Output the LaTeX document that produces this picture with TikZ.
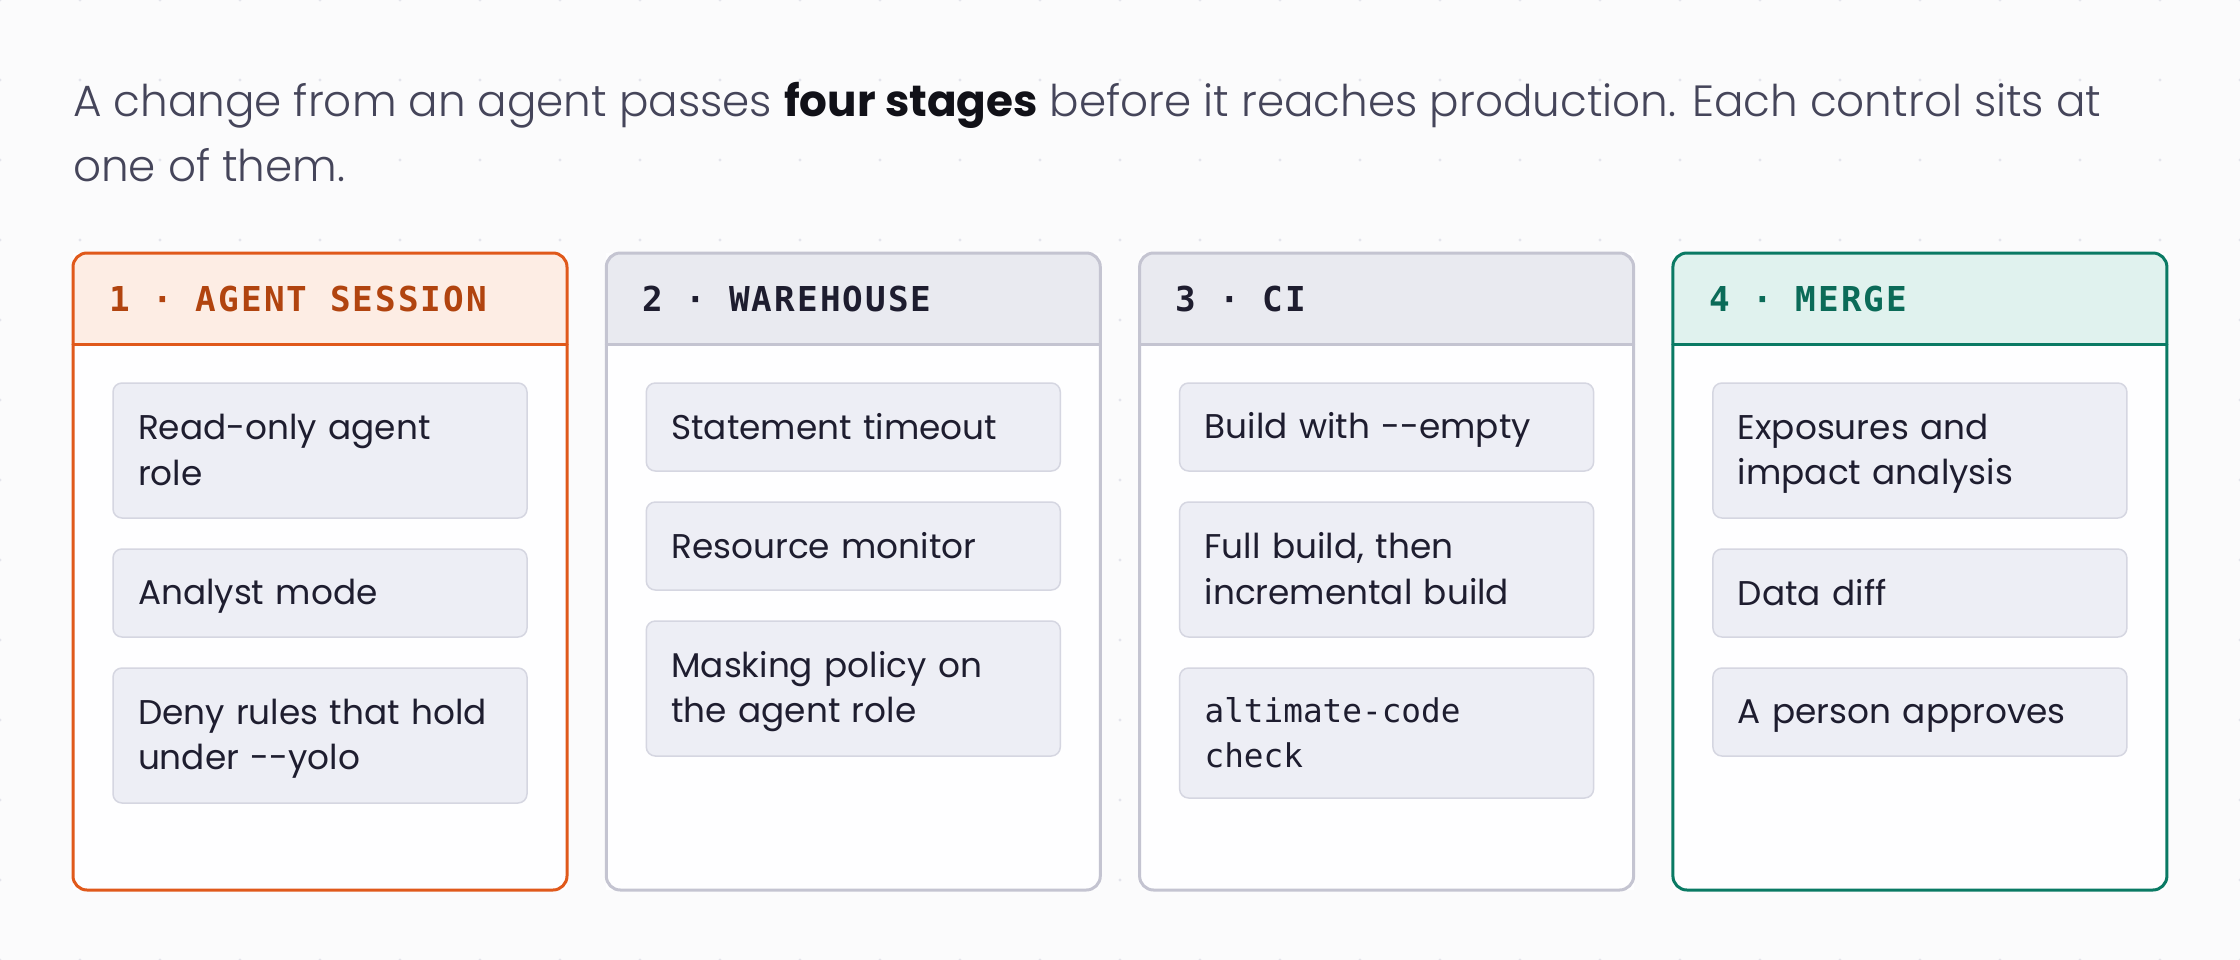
\documentclass[tikz,border=0pt]{standalone}
\usepackage{fontspec}
\usetikzlibrary{positioning}
\IfFontExistsTF{Poppins Light}
  {\newfontfamily\leadfont{Poppins Light}[BoldFont=Poppins Bold]\def\leadsize{43.7pt}}
  {\newfontfamily\leadfont{Poppins}\def\leadsize{43.4pt}}
\newfontfamily\ctlfont{Poppins}
\newfontfamily\stagefont{DejaVu Sans Mono}[LetterSpace=6]
\newfontfamily\codefont{DejaVu Sans Mono}
\newcommand\ctlstrut{\rule[-8pt]{0pt}{40pt}}
\definecolor{page}{HTML}{FBFBFC}
\definecolor{dot}{HTML}{E4E5EC}
\definecolor{cardbg}{HTML}{FEFEFF}
\definecolor{agent}{HTML}{E0591B}
\definecolor{agentbg}{HTML}{FDEDE4}
\definecolor{agenttx}{HTML}{B1440F}
\definecolor{rule}{HTML}{C4C4D1}
\definecolor{rulebg}{HTML}{E9EAF0}
\definecolor{ink}{HTML}{1E1D2F}
\definecolor{merge}{HTML}{0A7A64}
\definecolor{mergebg}{HTML}{E0F2EE}
\definecolor{mergetx}{HTML}{0B6B58}
\definecolor{ctlbg}{HTML}{EDEEF5}
\definecolor{ctlline}{HTML}{D5D6E1}
\definecolor{leadgray}{HTML}{45455A}
\definecolor{inkbold}{HTML}{111118}
\tikzset{
  lead/.style={font=\leadfont\fontsize{\leadsize}{65pt}\selectfont, text=leadgray, inner sep=0pt, anchor=base west},
  card/.style={fill=cardbg, minimum width=494pt, minimum height=637pt, inner sep=0pt, outer sep=0pt, anchor=north west},
  stage/.style={font=\stagefont\bfseries\fontsize{34.3pt}{40pt}\selectfont, inner sep=0pt, anchor=base west},
  ctl/.style={draw=ctlline, line width=1.5pt, fill=ctlbg, rounded corners=9pt, text width=364pt, inner xsep=25pt, inner ysep=0pt,
    outer sep=0pt, align=left, text=ink, anchor=north west, font=\ctlfont\fontsize{34.3pt}{45.7pt}\selectfont,
    execute at begin node=\ctlstrut, execute at end node=\ctlstrut},
  one/.style={minimum height=88pt},
  two/.style={minimum height=135pt},
  code/.style={minimum height=130pt, font=\codefont\fontsize{32.7pt}{45pt}\selectfont},
}
\begin{document}
\begin{tikzpicture}[x=1pt,y=-1pt, line join=round, line cap=round]
  \fill[page] (0,0) rectangle (2240,960);
  \useasboundingbox (0,0) rectangle (2240,960);
  %dot grid
  \foreach \x in {0,80,...,2240} \foreach \y in {0,80,...,960} \fill[dot] (\x,\y) circle (1.6pt);
  %lead text
  \node[lead] (lead1) at (73,117) {A change from an agent passes \textbf{\color{inkbold}four stages} before it reaches production. Each control sits at};
  \node[lead] (lead2) at (73,182) {one of them.};
  %cards
  \foreach \i/\bc/\hf/\hc/\lbl in {1/agent/agentbg/agenttx/1 · AGENT SESSION, 2/rule/rulebg/ink/2 · WAREHOUSE, 3/rule/rulebg/ink/3 · CI, 4/merge/mergebg/mergetx/4 · MERGE}{
    \pgfmathsetmacro\cx{73+533.3*(\i-1)}
    \node[card] (c\i) at (\cx,253) {};
    \begin{scope}
      \clip[rounded corners=14pt] (c\i.north west) rectangle (c\i.south east);
      \fill[\hf] (c\i.north west) rectangle ([yshift=-91pt]c\i.north east);
    \end{scope}
    \draw[\bc, line width=3pt] ([yshift=-91pt]c\i.north west) -- ([yshift=-91pt]c\i.north east);
    \draw[\bc, line width=3pt, rounded corners=14pt] (c\i.north west) rectangle (c\i.south east);
    \node[stage, text=\hc] (s\i) at ([xshift=36pt,yshift=-58pt]c\i.north west) {\lbl};
  }
  %1 agent session
  \node[ctl, two] (a1) at ([xshift=40pt,yshift=-130pt]c1.north west) {Read-only agent\\role};
  \node[ctl, one, below=31pt of a1] (a2) {Analyst mode};
  \node[ctl, two, below=31pt of a2] (a3) {Deny rules that hold\\under -{}-yolo};
  %2 warehouse
  \node[ctl, one] (w1) at ([xshift=40pt,yshift=-130pt]c2.north west) {Statement timeout};
  \node[ctl, one, below=31pt of w1] (w2) {Resource monitor};
  \node[ctl, two, below=31pt of w2] (w3) {Masking policy on\\the agent role};
  %3 ci
  \node[ctl, one] (k1) at ([xshift=40pt,yshift=-130pt]c3.north west) {Build with -{}-empty};
  \node[ctl, two, below=31pt of k1] (k2) {Full build, then\\incremental build};
  \node[ctl, code, below=31pt of k2] (k3) {altimate-code\\check};
  %4 merge
  \node[ctl, two] (m1) at ([xshift=40pt,yshift=-130pt]c4.north west) {Exposures and\\impact analysis};
  \node[ctl, one, below=31pt of m1] (m2) {Data diff};
  \node[ctl, one, below=31pt of m2] (m3) {A person approves};
\end{tikzpicture}
\end{document}
